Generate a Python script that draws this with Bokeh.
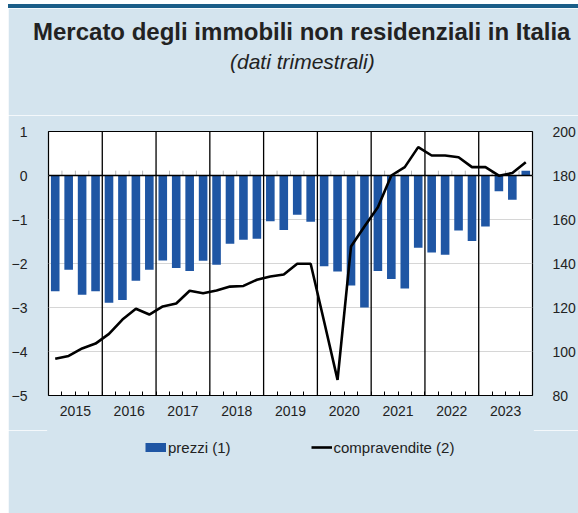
from bokeh.plotting import figure
from bokeh.models import (Range1d, LinearAxis, FixedTicker, Span, Legend, Title,
                          LegendItem, Div, ColumnDataSource)
from bokeh.layouts import column
from bokeh.embed import file_html
from bokeh.resources import INLINE

# ---- data -------------------------------------------------------------
years = ["2015", "2016", "2017", "2018", "2019", "2020", "2021", "2022", "2023"]
quarters_per_year = 4

# prezzi (1) - left axis, quarterly, 2015Q1..2023Q4
prezzi = [-2.63, -2.14, -2.71, -2.63,
          -2.89, -2.83, -2.39, -2.14,
          -1.93, -2.10, -2.17, -1.94,
          -2.03, -1.55, -1.46, -1.44,
          -1.04, -1.24, -0.89, -1.05,
          -2.06, -2.18, -2.50, -3.00,
          -2.17, -2.35, -2.57, -1.64,
          -1.75, -1.80, -1.25, -1.49,
          -1.16, -0.36, -0.55, 0.11]

# compravendite (2) - right axis
compravendite = [96.7, 98.0, 101.4, 103.6,
                 108.0, 114.5, 119.4, 116.8,
                 120.5, 121.8, 127.6, 126.5,
                 127.7, 129.5, 129.8, 132.6,
                 134.1, 135.0, 139.9, 139.9,
                 113.6, 87.1, 147.7, 156.8,
                 165.6, 180.0, 183.8, 192.9,
                 189.1, 189.1, 188.3, 183.8,
                 183.8, 179.9, 181.1, 186.0]

left_ticks = [-5, -4, -3, -2, -1, 0, 1]
right_ticks = [80, 100, 120, 140, 160, 180, 200]

title_text = "Mercato degli immobili non residenziali in Italia"
subtitle_text = "(dati trimestrali)"
legend_labels = ["prezzi (1)", "compravendite (2)"]

# ---- styling ------------------------------------------------------------
BG = "#d4e4ee"
BAR = "#1f56a4"
FONT = "Liberation Sans"
TXT = "#222222"
W = 570


def blank_fig(h, top=0):
    f = figure(width=W, height=h, x_range=Range1d(0, 1), y_range=Range1d(0, 1),
               output_backend="svg", toolbar_location=None, title_location=None,
               x_axis_location=None, y_axis_location=None,
               min_border_left=0, min_border_right=0, min_border_top=top,
               min_border_bottom=0)
    f.xgrid.visible = False
    f.ygrid.visible = False
    f.background_fill_color = BG
    f.border_fill_color = BG
    # paint over the anti-aliasing seam between frame and border
    f.outline_line_color = BG
    f.outline_line_width = 3
    return f


# ---- header (titles) --------------------------------------------------------
header = blank_fig(107, top=64)
header.add_layout(Title(text=subtitle_text, align="left", offset=181.5, standoff=0,
                        text_font=FONT, text_font_size="21px",
                        text_font_style="italic", text_color=TXT), "above")
header.add_layout(Title(text=title_text, align="left", offset=-15.5, standoff=6,
                        text_font=FONT, text_font_size="24px",
                        text_font_style="bold", text_color=TXT), "above")

# ---- main chart -----------------------------------------------------------
n = len(prezzi)
xq = [i + 0.5 for i in range(n)]
src = ColumnDataSource(dict(x=xq, prezzi=prezzi, cv=compravendite))

p = figure(width=W, height=315, x_range=Range1d(0, n), y_range=Range1d(-5, 1),
           output_backend="svg", toolbar_location=None, title_location=None,
           min_border_left=37, min_border_right=38, min_border_top=16,
           min_border_bottom=35)
p.extra_y_ranges = {"cv": Range1d(80, 200)}
p.background_fill_color = "white"
p.border_fill_color = BG
p.outline_line_color = "black"
p.outline_line_width = 1.2

ya = p.yaxis[0]
ya.ticker = FixedTicker(ticks=left_ticks)
ya.axis_line_color = None
ya.major_tick_line_color = None
ya.minor_tick_line_color = None
ya.major_label_standoff = 15
ya.major_label_text_font = FONT
ya.major_label_text_font_size = "14px"
ya.major_label_text_color = TXT

ra = LinearAxis(y_range_name="cv", ticker=FixedTicker(ticks=right_ticks))
ra.axis_line_color = None
ra.major_tick_line_color = None
ra.minor_tick_line_color = None
ra.major_label_standoff = 14
ra.major_label_text_font = FONT
ra.major_label_text_font_size = "14px"
ra.major_label_text_color = TXT
p.add_layout(ra, "right")

xa = p.xaxis[0]
year_centres = [quarters_per_year * i + 2 for i in range(len(years))]
xa.ticker = FixedTicker(ticks=year_centres, minor_ticks=list(range(1, n)))
xa.major_label_overrides = {c: y for c, y in zip(year_centres, years)}
xa.axis_line_color = None
xa.major_tick_line_color = None
xa.minor_tick_in = 4
xa.minor_tick_out = 0
xa.minor_tick_line_color = "black"
xa.major_label_standoff = 4
xa.major_label_text_font = FONT
xa.major_label_text_font_size = "14px"
xa.major_label_text_color = TXT

p.xgrid.grid_line_color = None
p.ygrid.ticker = FixedTicker(ticks=left_ticks)
p.ygrid.grid_line_color = "#d6d6d6"
p.ygrid.grid_line_width = 1

qb = list(range(1, n))
p.segment(x0=qb, y0=[0] * len(qb), x1=qb, y1=[0.11] * len(qb),
          line_color="#b8b8b8", line_width=1)

bars = p.vbar(x="x", top="prezzi", bottom=0, width=0.64, source=src,
              fill_color=BAR, line_color=None)

for k in range(1, len(years)):
    p.add_layout(Span(location=quarters_per_year * k, dimension="height",
                      line_color="black", line_width=1.3))
p.add_layout(Span(location=0, dimension="width", line_color="black", line_width=1.5))

line = p.line(x="x", y="cv", source=src, y_range_name="cv",
              line_color="black", line_width=2.6)

# ---- footer (legend) -----------------------------------------------------------
FH = 83
footer = blank_fig(FH)
footer.x_range = Range1d(0, W)
footer.y_range = Range1d(0, FH)
# legend-only renderers, kept outside the visible ranges
sw_bar = footer.line(x=[-60, -50], y=[-60, -60], line_color=BAR, line_width=9,
                     line_cap="butt")
sw_line = footer.line(x=[-60, -50], y=[-60, -60], line_color="black",
                      line_width=2.6)
legend = Legend(items=[LegendItem(label=legend_labels[0], renderers=[sw_bar]),
                       LegendItem(label=legend_labels[1], renderers=[sw_line])],
                location=(97, FH - 26), orientation="horizontal", padding=0,
                margin=0, spacing=80, border_line_color=None,
                background_fill_alpha=0, label_text_font=FONT,
                label_text_font_size="15px", label_text_color=TXT,
                glyph_width=21, glyph_height=18, label_height=18,
                label_standoff=2)
footer.add_layout(legend)

band = Div(text="", width=W, height=4, margin=0,
           styles={"background-color": "#1b5e88", "overflow": "hidden"})
layout = column(band, header, p, footer, spacing=0, margin=(4, 0, 0, 8))

open("out.html", "w").write(file_html(layout, INLINE))
